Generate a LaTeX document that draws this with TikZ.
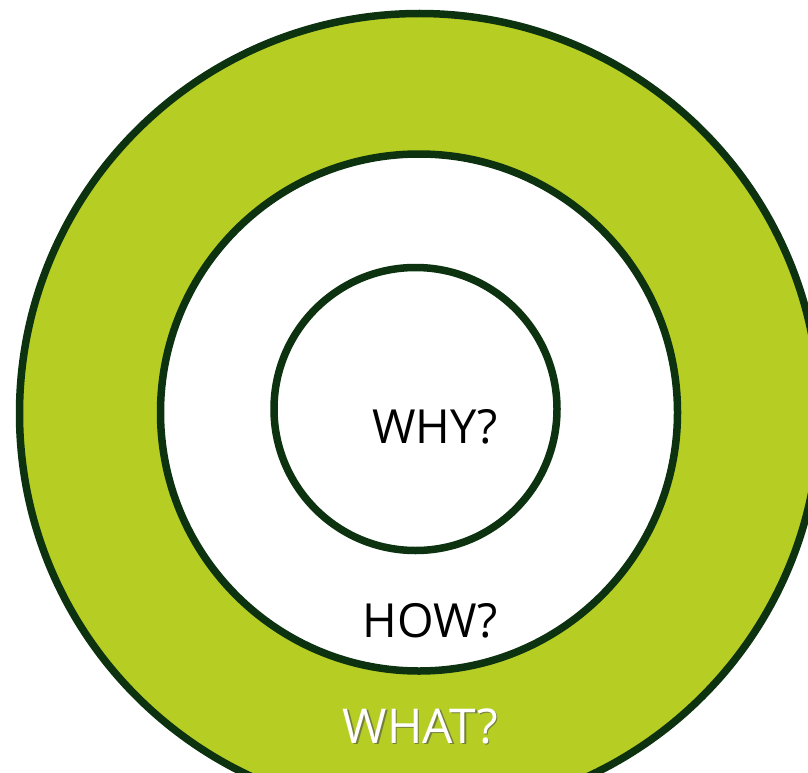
\documentclass[tikz,border=0pt]{standalone}
\usepackage{fontspec}
\setmainfont{Open Sans}
\definecolor{ringgreen}{HTML}{B6CE24}
\definecolor{ringline}{HTML}{0C3210}
\begin{document}
\begin{tikzpicture}[x=1pt,y=-1pt,
  ring/.style={draw=ringline,line width=7.5pt},
  label/.style={inner sep=0pt,anchor=base east,font=\fontsize{47}{47}\selectfont}]
\useasboundingbox (0,0) rectangle (808,773);
\clip (0,0) rectangle (808,773);
\node[ring,circle,fill=ringgreen,minimum size=800pt,inner sep=0pt] (outer) at (419.5,413.5) {};
\node[ring,circle,fill=white,minimum size=517pt,inner sep=0pt] (middle) at (419,412.5) {};
\node[ring,circle,fill=white,minimum size=283pt,inner sep=0pt] (inner) at (415.5,409) {};
\node[label] (why) at (498,443) {WHY?};
\node[label] (how) at (498,637) {HOW?};
\node[label,font=\fontsize{48}{48}\selectfont,text=black!70,opacity=0.6] (whatshadow) at (499.5,744.5) {WHAT?};
\node[label,font=\fontsize{48}{48}\selectfont,text=white] (what) at (498,743) {WHAT?};
\end{tikzpicture}
\end{document}
